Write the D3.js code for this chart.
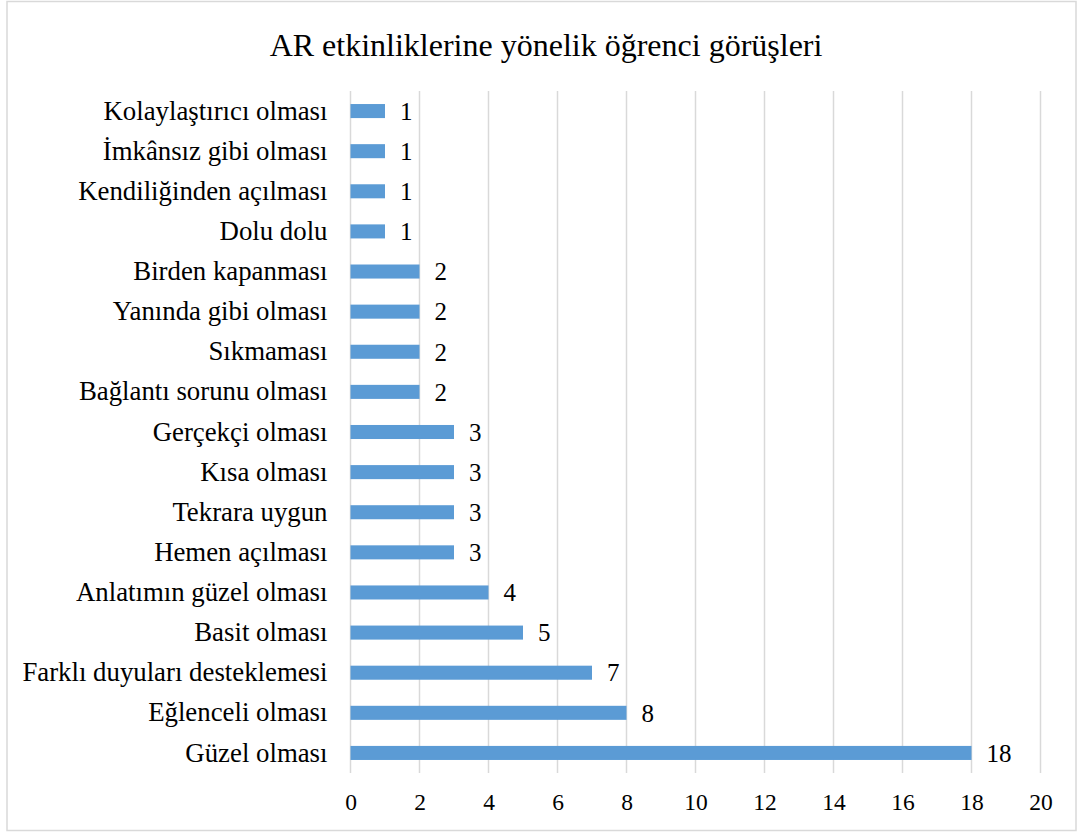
<!DOCTYPE html>
<html>
<head>
<meta charset="utf-8">
<script src="https://cdn.jsdelivr.net/npm/d3@7"></script>
<style>
  body { margin: 0; background: #fff; }
  text { font-family: "Liberation Serif", "Times New Roman", serif; fill: #000; }
</style>
</head>
<body>
<div id="chart"></div>
<script>
// categories from top to bottom
let categories = [
    "Kolaylaştırıcı olması",
    "İmkânsız gibi olması",
    "Kendiliğinden açılması",
    "Dolu dolu",
    "Birden kapanması",
    "Yanında gibi olması",
    "Sıkmaması",
    "Bağlantı sorunu olması",
    "Gerçekçi olması",
    "Kısa olması",
    "Tekrara uygun",
    "Hemen açılması",
    "Anlatımın güzel olması",
    "Basit olması",
    "Farklı duyuları desteklemesi",
    "Eğlenceli olması",
    "Güzel olması"
];
let values = [1, 1, 1, 1, 2, 2, 2, 2, 3, 3, 3, 3, 4, 5, 7, 8, 18];
let xTicks = [0, 2, 4, 6, 8, 10, 12, 14, 16, 18, 20];
let title = "AR etkinliklerine yönelik öğrenci görüşleri";

let larg = 1078;
let alt = 832;

let svg = d3.select("#chart")
            .append("svg")
            .attr("width", larg)
            .attr("height", alt);

// chart border
svg.append("rect")
    .attr("x", 7).attr("y", 1.5)
    .attr("width", 1069).attr("height", 829)
    .attr("fill", "none")
    .attr("stroke", "#d9d9d9")
    .attr("stroke-width", 1.5);

svg.append("text")
    .attr("x", 546).attr("y", 56)
    .attr("text-anchor", "middle")
    .style("font-size", "32px")
    .text(title);

let x = d3.scaleLinear()
            .domain([0, 20])
            .range([350.5, 1040.5]);

let y = d3.scaleBand()
            .domain(categories)
            .range([91, 773])
            .paddingInner(0.65)
            .paddingOuter(0.325);

// vertical gridlines
svg.append("g")
    .selectAll("line")
    .data(xTicks)
    .enter()
        .append("line")
        .attr("x1", d => x(d)).attr("x2", d => x(d))
        .attr("y1", 91).attr("y2", 773)
        .attr("stroke", "#d9d9d9")
        .attr("stroke-width", 1.5);

// x tick labels
let xAxis = d3.axisBottom(x).tickValues(xTicks).tickSize(0).tickPadding(0);
let gx = svg.append("g")
    .attr("transform", "translate(0,810)")
    .call(xAxis);
gx.attr("font-family", null);
gx.select(".domain").remove();
gx.selectAll("text")
    .attr("dy", null)
    .style("font-size", "23.5px");

// category labels
let yAxis = d3.axisLeft(y).tickSize(0).tickPadding(23);
let gy = svg.append("g")
    .attr("transform", "translate(350.5,0)")
    .call(yAxis);
gy.attr("font-family", null);
gy.select(".domain").remove();
gy.selectAll("text")
    .style("font-size", "26.8px");

// bars
svg.selectAll("rect.bar")
    .data(values)
    .enter()
        .append("rect")
        .attr("class", "bar")
        .attr("x", x(0))
        .attr("y", (d, i) => y(categories[i]))
        .attr("width", d => x(d) - x(0))
        .attr("height", y.bandwidth())
        .attr("fill", "#5b9bd5");

// value labels
svg.selectAll("text.val")
    .data(values)
    .enter()
        .append("text")
        .attr("class", "val")
        .attr("x", d => x(d) + 15)
        .attr("y", (d, i) => y(categories[i]) + y.bandwidth() / 2)
        .attr("dy", "0.35em")
        .style("font-size", "25px")
        .text(d => d);
</script>
</body>
</html>
